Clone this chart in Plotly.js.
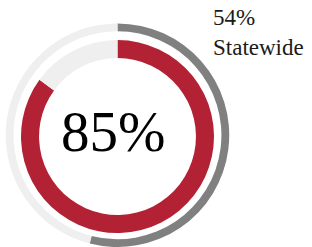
<!DOCTYPE html>
<html><head><meta charset="utf-8">
<script src="https://cdn.plot.ly/plotly-3.0.1.min.js"></script>
<style>html,body{margin:0;padding:0;background:#fff}#chart{width:312px;height:247px}</style>
</head><body><div id="chart"></div>
<script>
const localValue = 85;
const statewideValue = 54;
const centerLabel = "85%";
const statewideLabel = "54%<br>Statewide";

const outer = {
  type: 'pie', values: [statewideValue, 100 - statewideValue],
  sort: false, direction: 'clockwise', rotation: 0,
  hole: 0.93, textinfo: 'none', hoverinfo: 'none',
  marker: {colors: ['#808080', '#efefef'], line: {width: 0}},
  domain: {x: [0.016, 0.737], y: [0, 0.905]}, showlegend: false
};
const inner = {
  type: 'pie', values: [localValue, 100 - localValue],
  sort: false, direction: 'clockwise', rotation: 0,
  hole: 0.813, textinfo: 'none', hoverinfo: 'none',
  marker: {colors: ['#b22234', '#efefef'], line: {width: 0}},
  domain: {x: [0.0673, 0.6859], y: [0.0567, 0.838]}, showlegend: false
};
const layout = {
  width: 312, height: 247,
  margin: {l: 0, r: 0, t: 0, b: 0},
  paper_bgcolor: '#fff', plot_bgcolor: '#fff',
  annotations: [
    {text: centerLabel, x: 112.5/312, y: 1 - 131/247, xref: 'paper', yref: 'paper',
     showarrow: false, xanchor: 'center', yanchor: 'middle',
     font: {family: 'Liberation Serif, serif', size: 57, color: '#000'}},
    {text: statewideLabel, x: 211/312, y: 1 - 3/247, xref: 'paper', yref: 'paper',
     showarrow: false, xanchor: 'left', yanchor: 'top', align: 'left',
     font: {family: 'Liberation Serif, serif', size: 23, color: '#1a1a1a'}}
  ]
};
Plotly.newPlot('chart', [outer, inner], layout, {staticPlot: true, displayModeBar: false});
</script></body></html>
